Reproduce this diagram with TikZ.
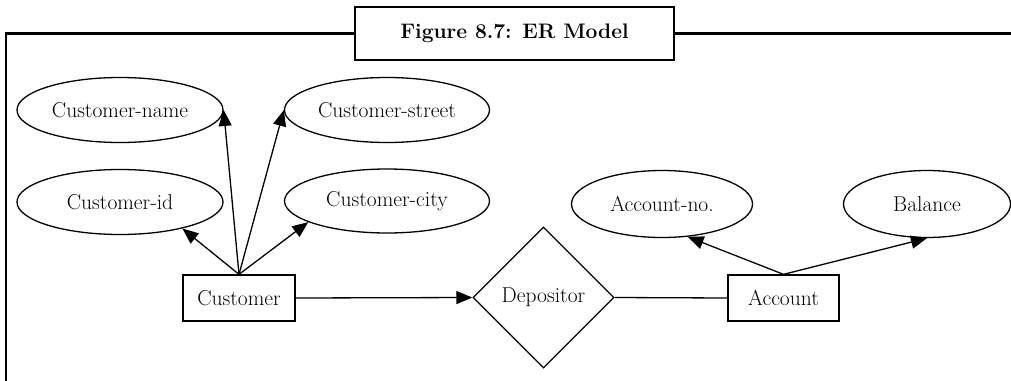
\documentclass[tikz,border=0pt]{standalone}
\usepackage{fontspec}
\usetikzlibrary{shapes.geometric,arrows.meta}
\begin{document}
\begin{tikzpicture}[x=1pt,y=-1pt,
  lbl/.style={font=\fontsize{21.5}{25}\selectfont},
  attr/.style={lbl, draw, ellipse, line width=1.3pt, inner sep=0pt},
  ent/.style={lbl, draw, rectangle, line width=1.3pt, inner sep=0pt, minimum width=112pt, minimum height=46pt},
  rel/.style={lbl, draw, diamond, line width=1.3pt, inner sep=0pt, minimum width=141pt, minimum height=141pt, aspect=1},
  conn/.style={line width=1.3pt},
  arr/.style={conn, -{Triangle[length=16pt,width=13pt]}},
  framebox/.style={draw, line width=2pt, minimum width=319pt, minimum height=53pt, inner sep=0pt, font=\bfseries\fontsize{21}{25}\selectfont},
  frameline/.style={line width=2.5pt}
]
\useasboundingbox (0,0) rectangle (1011,380);

\node[framebox] (title) at (514.5,33.5) {Figure 8.7: ER Model};
\coordinate (fl) at (6,33.5);
\coordinate (fb) at (6,392);
\coordinate (fr) at (1022,33.5);
\draw[frameline] (title.west) -- (fl) -- (fb);
\draw[frameline] (title.east) -- (fr);

\node[attr, minimum width=206pt, minimum height=65pt] (cn) at (120,110) {Customer-name};
\node[attr, minimum width=205pt, minimum height=65pt] (cs) at (387,110) {Customer-street};
\node[attr, minimum width=206pt, minimum height=65pt] (ci) at (120,202) {Customer-id};
\node[attr, minimum width=205pt, minimum height=64pt] (cc) at (387,201) {Customer-city};
\node[attr, minimum width=181pt, minimum height=67pt] (an) at (662,204) {Account-no.};
\node[attr, minimum width=167pt, minimum height=67pt] (ba) at (927,204) {Balance};

\node[ent] (cu) at (239,298) {Customer};
\node[ent, minimum width=111pt] (ac) at (783.5,298) {Account};
\node[rel] (dep) at (543.5,297.5) {Depositor};

\draw[arr] (cu.north) -- (cn.east);
\draw[arr] (cu.north) -- (cs.west);
\draw[arr] (cu.north) -- (ci.-23);
\draw[arr] (cu.north) -- (cc.195);
\draw[arr] (cu.east) -- (dep.west);
\draw[conn] (dep.east) -- (ac.west);
\draw[arr] (ac.north) -- (an.-52);
\draw[arr] (ac.north) -- (ba.south);
\end{tikzpicture}
\end{document}
